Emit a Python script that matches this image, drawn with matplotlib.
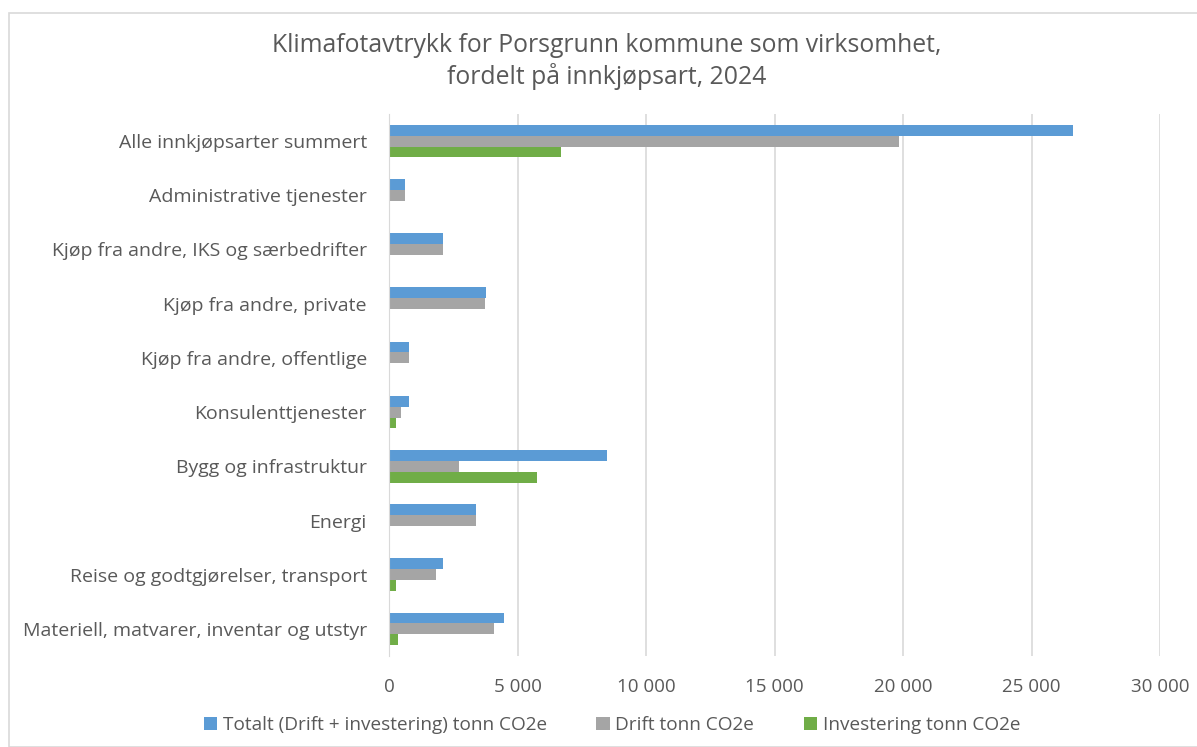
import matplotlib
matplotlib.use("Agg")
import matplotlib.pyplot as plt
import matplotlib.patches as mpatches
from matplotlib.ticker import FuncFormatter
import numpy as np

# Data (tonn CO2e)
categories = [
    "Alle innkjøpsarter summert",
    "Administrative tjenester",
    "Kjøp fra andre, IKS og særbedrifter",
    "Kjøp fra andre, private",
    "Kjøp fra andre, offentlige",
    "Konsulenttjenester",
    "Bygg og infrastruktur",
    "Energi",
    "Reise og godtgjørelser, transport",
    "Materiell, matvarer, inventar og utstyr",
]
totalt = [26600, 610, 2100, 3760, 790, 780, 8490, 3380, 2100, 4460]
drift = [19850, 610, 2100, 3730, 790, 480, 2720, 3380, 1840, 4100]
investering = [6700, 0, 0, 0, 0, 260, 5760, 0, 260, 350]

series_names = ["Totalt (Drift + investering) tonn CO2e", "Drift tonn CO2e", "Investering tonn CO2e"]
colors = ["#5B9BD5", "#A5A5A5", "#70AD47"]
text_color = "#595959"

plt.rcParams["font.family"] = ["Open Sans", "DejaVu Sans"]

W, H = 1197, 747
fig = plt.figure(figsize=(W / 100, H / 100), dpi=100)

# outer chart border
fig.patches.append(mpatches.Rectangle((8.5 / W, 0), 1, 1 - 13 / H, transform=fig.transFigure,
                                      fill=False, edgecolor="#D9D9D9", linewidth=1.2))

ax = fig.add_axes([389 / W, 1 - 656 / H, (1160 - 389) / W, (656 - 114) / H])

y = np.arange(len(categories))
h = 0.2
ax.barh(y - h, totalt, height=h, color=colors[0], label=series_names[0])
ax.barh(y, drift, height=h, color=colors[1], label=series_names[1])
ax.barh(y + h, investering, height=h, color=colors[2], label=series_names[2])

ax.set_ylim(len(categories) - 0.5, -0.5)
ax.set_xlim(0, 30000)
ax.set_xticks(range(0, 30001, 5000))
ax.xaxis.set_major_formatter(FuncFormatter(lambda v, p: f"{int(v):,}".replace(",", " ")))
ax.set_yticks(y)
ax.set_yticklabels(categories)

ax.grid(axis="x", color="#D9D9D9", linewidth=1.2)
ax.set_axisbelow(True)
for s in ["top", "right", "bottom"]:
    ax.spines[s].set_visible(False)
ax.spines["left"].set_color("#D9D9D9")
ax.tick_params(axis="both", length=0, labelcolor=text_color)
ax.tick_params(axis="x", pad=16, labelsize=13.5)
ax.tick_params(axis="y", pad=16, labelsize=14)

fig.text(607 / W, 1 - 45 / H, "Klimafotavtrykk for Porsgrunn kommune som virksomhet,",
         ha="center", va="center", fontsize=17.8, color=text_color)
fig.text(607 / W, 1 - 77 / H, "fordelt på innkjøpsart, 2024",
         ha="center", va="center", fontsize=17.8, color=text_color)

leg = fig.legend(loc="center", bbox_to_anchor=(612 / W, 1 - 725 / H), ncol=3, frameon=False,
                 fontsize=13.7, handlelength=0.7, handleheight=0.7, handletextpad=0.3,
                 columnspacing=2.6)
for t in leg.get_texts():
    t.set_color(text_color)

fig.savefig("out.png", dpi=100)
